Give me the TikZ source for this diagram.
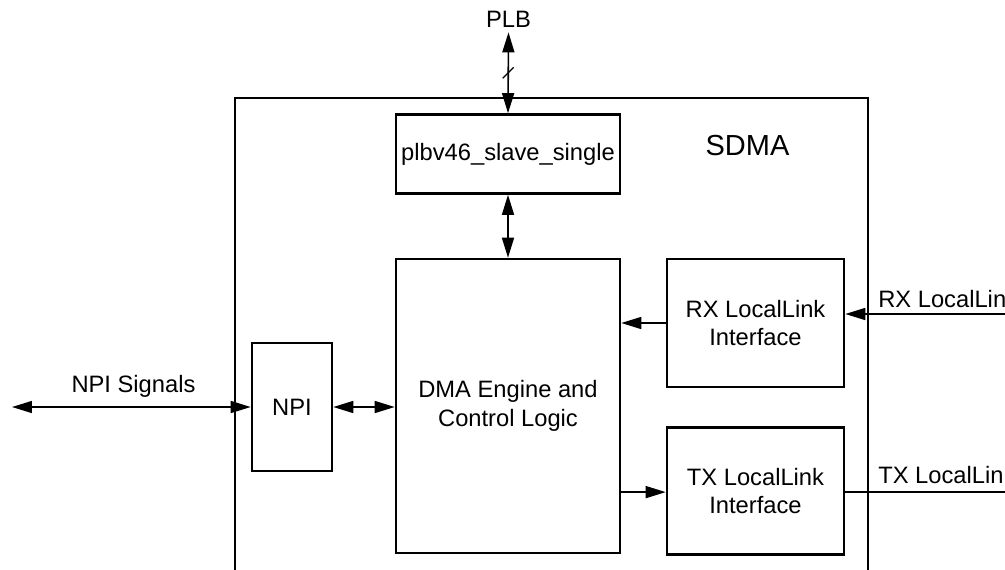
\documentclass[tikz,border=0pt]{standalone}
\usepackage{fontspec}
\setmainfont{Liberation Sans}
\usetikzlibrary{arrows.meta,positioning}
\tikzset{
  blockbox/.style={draw, line width=1.5pt, align=center, inner sep=0pt,
    font=\fontsize{13.5}{16.4}\selectfont},
  lbl/.style={inner sep=0pt, font=\fontsize{13.5}{16.4}\selectfont},
  arr/.style={-{Triangle[length=0.4cm,width=0.24cm]}, line width=0.9pt},
  dbl/.style={{Triangle[length=0.4cm,width=0.24cm]}-{Triangle[length=0.4cm,width=0.24cm]}, line width=0.9pt},
  frame/.style={line width=1.7pt}
}
\begin{document}
\begin{tikzpicture}[x=0.02cm,y=-0.02cm]
    \useasboundingbox (0,0) rectangle (1005,569);
    \clip (0,0) rectangle (1005,569);
    % SDMA frame, open at the bottom
    \draw[frame] (235,580) -- (235,98) -- (868,98) -- (868,580);
    \node[lbl, font=\fontsize{16.5}{19}\selectfont, anchor=base] (sdma) at (747.5,155) {SDMA};
    % blocks
    \node[blockbox, minimum width=4.48cm, minimum height=1.58cm] (plb) at (508,154) {plbv46\_slave\_single};
    \node[blockbox, minimum width=4.48cm, minimum height=5.88cm] (dma) at (508,406) {DMA Engine and\\Control Logic};
    \node[blockbox, minimum width=3.54cm, minimum height=2.56cm] (rx) at (755.5,323) {RX LocalLink\\Interface};
    \node[blockbox, minimum width=3.54cm, minimum height=2.54cm, below=0.76cm of rx] (tx) {TX LocalLink\\Interface};
    \node[blockbox, minimum width=1.6cm, minimum height=2.56cm] (npi) at (292,407) {NPI};
    % outside labels
    \node[lbl, anchor=base] (plblabel) at (508.5,27) {PLB};
    \node[lbl, anchor=base] (npisig) at (133.5,392) {NPI Signals};
    \node[lbl, anchor=base west] (rxll) at (878,307) {RX LocalLink};
    \node[lbl, anchor=base west] (txll) at (878,483) {TX LocalLink};
    \coordinate (npiend) at (12,407);
    \coordinate (rxin) at (1010,314);
    \coordinate (txout) at (1010,491);
    % connectors
    \draw[dbl] ([yshift=-0.1cm]plblabel.south) -- coordinate (plbmid) (plb.north);
    \draw[line width=0.7pt] (plbmid) ++(-5.5,5.5) -- ++(11,-11);
    \draw[dbl] (plb.south) -- (plb.south |- dma.north);
    \draw[dbl] (npiend) -- (npi.west);
    \draw[dbl] (npi.east) -- (npi.east -| dma.west);
    \draw[arr] (rx.west) -- (rx.west -| dma.east);
    \draw[arr] ([yshift=-0.02cm]tx.west -| dma.east) -- ([yshift=-0.02cm]tx.west);
    \draw[arr] (rxin) -- (rxin -| rx.east);
    \draw[line width=0.9pt] (txout |- tx.east) ++(0,1) -- ([yshift=-0.02cm]tx.east);
\end{tikzpicture}
\end{document}
